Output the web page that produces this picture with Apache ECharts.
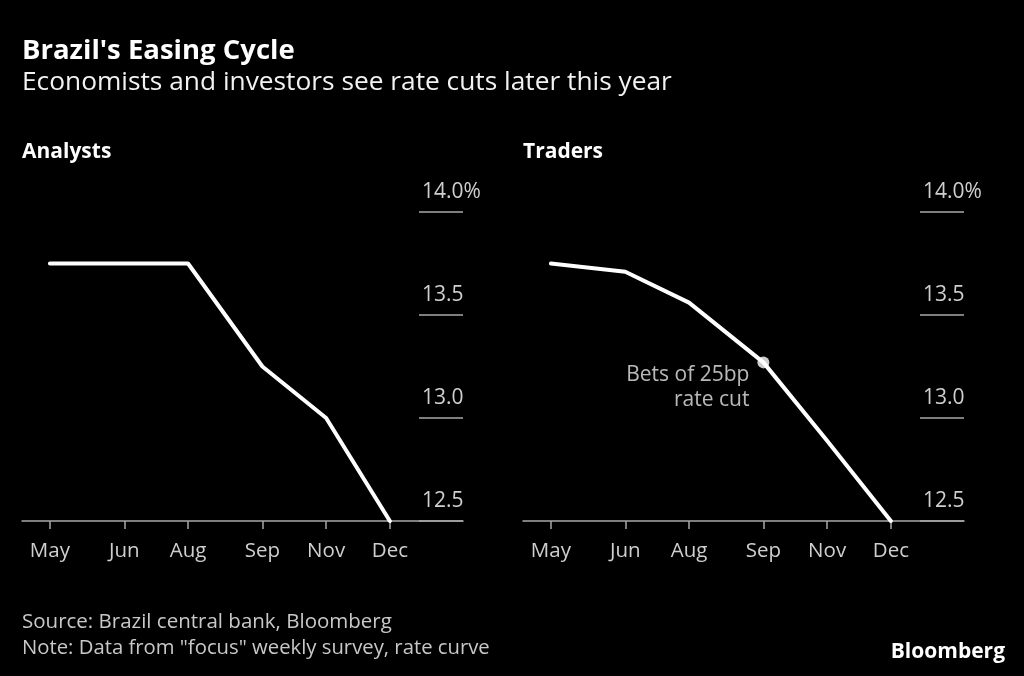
<!DOCTYPE html>
<html>
<head>
<meta charset="utf-8">
<script src="https://cdn.jsdelivr.net/npm/echarts@6/dist/echarts.min.js"></script>
<style>
html,body{margin:0;padding:0;background:#000;}
#c{width:1024px;height:676px;}
</style>
</head>
<body>
<div id="c"></div>
<script>
// ---- data ----
const meetingDates = ['2023-05-03', '2023-06-21', '2023-08-02', '2023-09-20', '2023-11-01', '2023-12-13'];
const analysts = [13.75, 13.75, 13.75, 13.25, 13.0, 12.5];
const traders = [13.75, 13.71, 13.56, 13.27, 12.89, 12.5];
const annotationDate = '2023-09-20';
const annotationValue = 13.27;
const annotationText = 'Bets of 25bp\nrate cut';
const yTicks = [12.5, 13.0, 13.5, 14.0];
const monthNames = ['Jan','Feb','Mar','Apr','May','Jun','Jul','Aug','Sep','Oct','Nov','Dec'];

const FONT = 'Open Sans';
const DAY = 86400000;
const parse = d => +echarts.number.parseDate(d);
const t0 = parse(meetingDates[0]);
const dayOf = d => Math.round((parse(d) - t0) / DAY);
const xs = meetingDates.map(dayOf);
const xMin = -18.4;
const xMax = 272.2;

const chart = echarts.init(document.getElementById('c'), null, {renderer: 'canvas'});

function panelAxes(gi) {
  return {
    x: [
      {
        gridIndex: gi * 2, type: 'value', min: xMin, max: xMax,
        axisLine: {show: true, onZero: false, lineStyle: {color: '#a8a8a8', width: 1.5}},
        axisTick: {show: true, length: 8, customValues: xs, lineStyle: {color: '#a8a8a8', width: 1.5}},
        axisLabel: {
          customValues: xs, color: '#cfcfcf', fontFamily: FONT, fontSize: 20.5, margin: 20,
          formatter: v => monthNames[new Date(t0 + v * DAY).getMonth()]
        },
        splitLine: {show: false}
      },
      {gridIndex: gi * 2 + 1, type: 'value', show: false}
    ],
    y: [
      {gridIndex: gi * 2, type: 'value', min: 12.5, max: 14.0, show: false},
      {
        gridIndex: gi * 2 + 1, type: 'value', min: 12.5, max: 14.0, interval: 0.5,
        axisLine: {show: false}, axisTick: {show: false},
        splitLine: {show: true, lineStyle: {color: '#a8a8a8', width: 1.5}},
        axisLabel: {
          inside: true, margin: 3, align: 'left', verticalAlign: 'bottom',
          padding: [0, 0, 9, 0],
          color: '#cfcfcf', fontFamily: FONT, fontSize: 21,
          formatter: v => (v === 14 ? '14.0%' : v.toFixed(1))
        }
      }
    ]
  };
}
const p0 = panelAxes(0), p1 = panelAxes(1);

const titleStyle = (size, weight, color) => ({color: color, fontSize: size, fontWeight: weight, fontFamily: FONT});

chart.setOption({
  backgroundColor: '#000',
  animation: false,
  title: [
    {text: "Brazil's Easing Cycle", left: 17, top: 32, textStyle: titleStyle(27.5, 'bold', '#fff')},
    {text: 'Economists and investors see rate cuts later this year', left: 17, top: 65, textStyle: titleStyle(26.3, 'normal', '#f2f2f2')},
    {text: 'Analysts', left: 17, top: 137, textStyle: titleStyle(21, 'bold', '#fff')},
    {text: 'Traders', left: 518, top: 137, textStyle: titleStyle(21, 'bold', '#fff')},
    {text: 'Source: Brazil central bank, Bloomberg', left: 17, top: 607, textStyle: titleStyle(20.5, 'normal', '#c8c8c8')},
    {text: 'Note: Data from "focus" weekly survey, rate curve', left: 17, top: 633, textStyle: titleStyle(20.3, 'normal', '#c8c8c8')},
    {text: 'Bloomberg', right: 14, top: 637, textStyle: titleStyle(21, 'bold', '#fff')}
  ],
  grid: [
    {left: 22, width: 441, top: 212, height: 309},
    {left: 419, width: 44, top: 212, height: 309},
    {left: 523, width: 441, top: 212, height: 309},
    {left: 920, width: 44, top: 212, height: 309}
  ],
  xAxis: [p0.x[0], p0.x[1], p1.x[0], p1.x[1]],
  yAxis: [p0.y[0], p0.y[1], p1.y[0], p1.y[1]],
  series: [
    {
      type: 'line', xAxisIndex: 0, yAxisIndex: 0, showSymbol: false,
      lineStyle: {color: '#fff', width: 4, cap: 'round', join: 'round'},
      data: xs.map((x, i) => [x, analysts[i]])
    },
    {
      type: 'line', xAxisIndex: 2, yAxisIndex: 2, showSymbol: false,
      lineStyle: {color: '#fff', width: 4, cap: 'round', join: 'round'},
      data: xs.map((x, i) => [x, traders[i]])
    },
    {
      type: 'scatter', xAxisIndex: 2, yAxisIndex: 2, symbolSize: 12,
      itemStyle: {color: '#fff'},
      label: {
        show: true, formatter: annotationText, position: [-8, 6],
        align: 'right', verticalAlign: 'top', lineHeight: 25,
        color: '#e6e6e6', fontFamily: FONT, fontSize: 21
      },
      data: [[dayOf(annotationDate), annotationValue]]
    }
  ]
});
</script>
</body>
</html>
